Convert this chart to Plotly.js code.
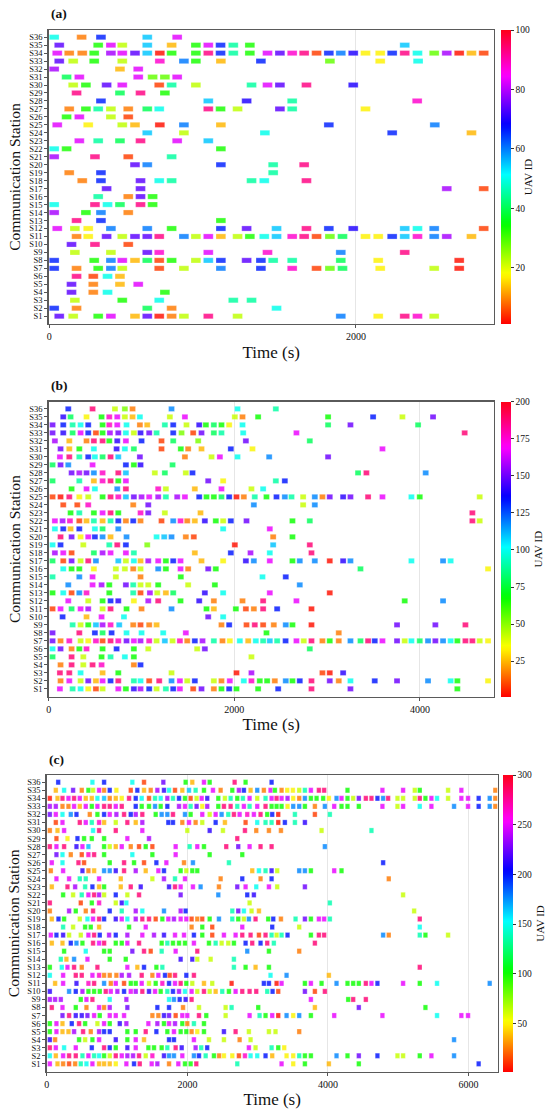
<!DOCTYPE html>
<html><head><meta charset="utf-8">
<script src="https://cdn.plot.ly/plotly-3.0.1.min.js"></script>
<style>html,body{margin:0;padding:0;background:#fff}#chart{width:550px;height:1113px}</style>
</head><body><div id="chart"></div>
<script>
// ---------------- DATA ----------------
const stations = ['S1','S2','S3','S4','S5','S6','S7','S8','S9','S10','S11','S12','S13','S14','S15','S16','S17','S18',
  'S19','S20','S21','S22','S23','S24','S25','S26','S27','S28','S29','S30','S31','S32','S33','S34','S35','S36'];
const windowSec = 64; // communication window length (s)

// Each row = one station (S1..S36): [start time (s), UAV ID]
const panelA = [
 [[33,74],[124,22],[287,33],[370,83],[527,13],[607,74],[685,2],[766,9],[846,22],[1005,93],[1196,22],[1869,60],[2113,17],[2286,93],[2369,88],[2478,22]],
 [[0,66],[146,9],[607,40],[766,9],[1450,50]],
 [[135,22],[444,33],[685,50],[1168,45],[1287,45]],
 [[113,74],[255,9],[348,50],[722,33]],
 [[113,74],[255,9],[429,13],[548,83]],
 [[146,93],[255,5],[348,50],[429,13]],
 [[0,66],[146,9],[287,33],[370,60],[444,22],[685,5],[846,22],[1087,60],[1348,66],[1552,88],[1711,5],[1798,28],[1880,40],[2126,17],[2478,22],[2641,2]],
 [[0,66],[261,33],[370,60],[444,83],[527,13],[607,40],[685,5],[766,33],[924,22],[1005,55],[1087,66],[1255,74],[1348,66],[1428,45],[1552,45],[1869,40],[2113,17],[2641,2]],
 [[135,22],[370,22],[607,74],[685,88],[1005,83],[1391,88],[1869,60],[2286,93]],
 [[113,74],[266,93],[483,5]],
 [[146,9],[222,17],[342,74],[444,22],[527,74],[607,74],[685,93],[846,60],[924,22],[1005,83],[1087,13],[1196,22],[1276,33],[1370,50],[1450,55],[1552,88],[1630,93],[1711,5],[1798,28],[1880,40],[2030,17],[2113,17],[2204,66],[2286,55],[2369,88],[2478,60],[2560,79],[2721,13]],
 [[20,83],[135,22],[222,17],[370,60],[607,60],[766,33],[1087,66],[1255,74],[1450,55],[1645,93],[1791,66],[1950,70],[2286,55],[2369,50],[2478,60],[2801,5]],
 [[146,93],[305,66],[1087,33]],
 [[0,79],[207,33],[305,60],[483,9]],
 [[0,50],[266,93],[348,50],[429,40],[563,93],[642,33]],
 [[287,45],[483,9],[563,74],[642,33]],
 [[342,74],[563,74],[2560,79],[2801,5]],
 [[183,9],[305,66],[563,74],[685,50],[766,45],[1287,45],[1370,50],[1645,93]],
 [[98,9],[305,66],[1428,45]],
 [[527,74],[607,60],[1087,66],[1428,45],[1630,93]],
 [[0,79],[266,93],[483,5],[766,45]],
 [[0,50],[81,33],[1087,33]],
 [[164,83],[287,45],[429,40],[563,93],[802,83],[1005,55]],
 [[607,55],[846,22],[1374,50],[2204,66],[2721,13]],
 [[20,83],[222,17],[444,22],[527,13],[689,2],[846,60],[1087,13],[1791,66],[2482,60]],
 [[81,33],[164,83],[370,22],[483,5]],
 [[98,9],[207,33],[287,45],[370,22],[483,9],[607,40],[685,50],[1005,93],[1085,33],[1196,22],[1472,74],[1552,45],[2030,17]],
 [[305,66],[1005,55],[1255,70],[1552,45],[2367,88]],
 [[146,93],[429,40],[563,93],[722,33]],
 [[124,22],[207,33],[342,74],[444,83],[685,5],[766,45],[924,22],[1287,45],[1391,83],[1472,74],[1645,93],[1950,70]],
 [[81,40],[164,83],[548,83],[642,28],[722,28],[802,83]],
 [[0,79],[429,13],[548,83]],
 [[33,74],[124,22],[261,33],[444,22],[689,88],[846,60],[924,33],[1087,13],[1348,66],[1798,28],[2126,17],[2373,50]],
 [[20,83],[98,9],[183,9],[261,33],[370,79],[444,83],[527,74],[607,55],[689,2],[766,33],[924,33],[1005,93],[1085,66],[1168,45],[1276,33],[1391,83],[1472,74],[1552,88],[1630,93],[1711,5],[1791,66],[1869,60],[1950,70],[2030,17],[2126,17],[2204,66],[2286,93],[2369,50],[2478,28],[2560,79],[2641,2],[2721,13],[2801,5]],
 [[33,74],[287,33],[370,83],[444,22],[607,55],[766,13],[924,33],[1005,83],[1085,66],[1168,45],[1276,33],[2286,55]],
 [[0,50],[179,9],[305,66],[607,55],[802,83]]
];

const panelB = [
 [[88,167],[225,90],[311,100],[393,34],[476,9],[548,42],[717,167],[799,67],[885,141],[957,158],[1050,133],[1130,42],[1230,90],[1309,133],[1381,167],[1524,9],[1614,150],[1747,17],[1829,67],[1912,133],[1991,67],[2224,67],[2440,133],[2799,188],[3219,150],[4371,67]],
 [[95,17],[189,167],[311,42],[393,150],[476,25],[548,167],[634,133],[717,188],[885,90],[957,100],[1050,9],[1158,188],[1291,118],[1381,167],[1460,42],[1542,133],[1747,42],[1829,17],[1919,167],[2070,100],[2152,177],[2242,67],[2321,67],[2404,17],[2522,118],[2594,67],[2673,133],[2799,188],[2996,150],[3093,17],[3219,100],[3481,133],[3721,150],[4055,118],[4299,100],[4371,67],[4702,34]],
 [[88,188],[189,188],[311,100],[548,25],[717,67],[1291,42],[1991,3],[2152,158],[2917,9],[2996,3],[3140,141]],
 [[95,17],[214,188],[340,42],[440,188],[537,177],[885,17],[957,133]],
 [[9,80],[214,188],[340,42],[537,67],[634,90],[788,100],[885,67],[2152,42]],
 [[9,100],[95,150],[214,17],[297,67],[375,177],[548,67],[699,133],[885,67],[1040,42],[1567,42],[1650,150],[2781,80]],
 [[9,150],[95,17],[189,177],[311,42],[393,34],[476,177],[548,9],[634,188],[717,177],[806,150],[885,167],[957,158],[1050,177],[1130,42],[1219,110],[1302,42],[1381,177],[1460,17],[1542,133],[1625,158],[1747,90],[1840,17],[1919,34],[2027,100],[2117,25],[2199,100],[2278,90],[2350,110],[2429,90],[2520,133],[2637,167],[2716,42],[2799,188],[2917,17],[2996,67],[3093,17],[3219,118],[3327,80],[3409,188],[3481,133],[3564,167],[3721,150],[3804,42],[3876,100],[3966,80],[4055,118],[4134,150],[4217,118],[4299,100],[4371,67],[4458,188],[4533,188],[4612,42],[4702,34]],
 [[9,150],[297,188],[465,133],[548,80],[645,133],[806,100],[968,100],[1201,100],[1445,167],[2314,67],[3093,17]],
 [[225,90],[311,42],[393,67],[476,110],[548,158],[634,177],[727,110],[878,17],[957,9],[1050,17],[1130,25],[1829,17],[1912,133],[2099,9],[2188,188],[2278,9],[2393,17],[2522,118],[2594,67],[2799,3],[3721,150],[4134,150],[4458,188]],
 [[117,133],[375,25],[537,167],[778,100],[1686,150],[1847,100]],
 [[9,9],[95,167],[214,80],[311,167],[393,158],[548,42],[634,188],[806,67],[968,17],[1291,118],[1668,67],[1747,25],[1984,67],[2092,9],[2178,17],[2278,188],[2429,133],[2799,3]],
 [[178,167],[393,42],[548,67],[634,133],[717,141],[885,34],[1040,158],[1147,188],[1388,67],[1589,141],[1747,17],[2056,17],[2278,188],[2637,167],[3804,67],[4217,118]],
 [[9,67],[124,100],[214,9],[297,118],[375,177],[620,67],[878,90],[957,9],[1058,158],[1137,42],[1230,25],[1309,80],[1650,141],[1847,100],[2350,167],[2996,3]],
 [[178,118],[440,167],[537,158],[620,67],[799,150],[878,90],[957,42],[1040,42],[1147,67],[1470,42],[1758,67],[2673,118]],
 [[9,90],[297,118],[440,167],[691,42],[957,17],[1391,67],[2271,100],[2522,133]],
 [[124,100],[214,67],[297,67],[454,34],[691,42],[788,42],[878,17],[957,42],[1147,118],[1230,67],[1388,167],[1470,17],[1686,150],[1768,67],[3327,80],[4702,34]],
 [[9,80],[124,9],[214,150],[311,42],[393,188],[476,118],[717,110],[799,42],[885,100],[957,25],[1040,158],[1147,167],[1230,67],[1309,133],[1388,167],[1614,25],[1847,34],[2092,141],[2178,118],[2350,167],[2594,67],[2673,118],[2835,118],[2996,3],[3140,141],[3219,118],[3876,100],[4217,118],[4299,100]],
 [[34,158],[124,167],[214,9],[454,80],[548,158],[634,167],[799,167],[885,90],[1542,25],[1930,133],[2142,158],[2350,100],[2799,188]],
 [[9,100],[95,133],[340,42],[620,90],[706,188],[799,133],[1029,52],[1973,3],[2386,110],[2781,188]],
 [[95,188],[214,150],[311,34],[393,167],[465,133],[548,118],[634,25],[806,118],[1130,100],[1212,110],[1291,118],[1445,17],[1531,9],[2386,17],[2594,67]],
 [[34,100],[124,133],[203,25],[297,133],[465,100],[548,80],[717,118],[1847,100],[2350,167]],
 [[34,167],[117,158],[196,177],[297,9],[375,25],[454,90],[548,25],[634,90],[717,133],[799,17],[878,133],[957,17],[1183,9],[1309,118],[1388,177],[1460,17],[1542,25],[1650,141],[1768,67],[1847,42],[1930,133],[2099,150],[2594,67],[2781,80],[4533,188],[4612,42]],
 [[203,67],[297,90],[454,67],[548,167],[634,188],[717,67],[957,177],[1040,150],[1219,42],[1603,25],[4533,188]],
 [[124,9],[275,9],[393,177],[878,17],[1040,150],[2178,118],[2709,42],[2835,118]],
 [[9,9],[95,3],[189,188],[297,34],[393,42],[548,67],[634,188],[717,177],[799,110],[885,150],[968,158],[1050,167],[1147,158],[1230,90],[1352,158],[1435,167],[1589,133],[1668,67],[1747,67],[1829,80],[1912,133],[1991,3],[2070,17],[2188,90],[2314,67],[2422,133],[2512,118],[2584,90],[2709,42],[2835,118],[2917,17],[2996,150],[3140,141],[3219,150],[3409,188],[3564,167],[3876,100],[3966,67],[4612,42]],
 [[214,67],[375,167],[465,100],[706,118],[799,188],[1147,177],[1230,42],[1542,25],[1829,167],[2152,42],[2278,100]],
 [[9,80],[297,90],[454,25],[548,177],[634,188],[717,67],[799,167],[1686,150],[1847,34],[2415,90],[2512,133]],
 [[214,150],[297,158],[375,150],[454,118],[548,177],[717,188],[799,110],[1111,42],[1219,80],[1445,42],[1517,133],[3301,80],[3391,188],[4030,118]],
 [[9,80],[95,150],[178,118],[440,167],[799,133],[885,67],[957,141],[1302,80]],
 [[88,167],[189,188],[297,90],[393,133],[465,100],[548,80],[634,188],[717,110],[950,150],[1435,17],[1722,42],[1812,167],[2002,100],[2343,118],[2978,150]],
 [[95,150],[189,25],[297,67],[454,100],[699,141],[788,100],[885,80],[1183,9],[1391,67],[1470,17],[1614,25],[1930,133],[2163,34],[3564,167]],
 [[34,158],[189,25],[375,17],[454,188],[548,188],[620,67],[706,141],[799,167],[968,133],[1183,9],[1309,80],[1578,52],[2092,150],[2781,80]],
 [[9,150],[124,141],[225,80],[311,167],[393,133],[476,9],[548,67],[627,158],[717,150],[799,100],[885,42],[957,141],[1050,150],[1130,90],[1309,133],[1399,52],[1524,9],[1614,150],[1747,80],[1829,90],[2063,100],[2637,167],[4450,188]],
 [[9,150],[124,133],[225,90],[311,100],[393,133],[548,67],[620,177],[706,167],[806,100],[950,17],[1029,25],[1219,90],[1309,133],[1452,42],[1589,141],[1661,67],[1747,80],[1829,67],[1912,34],[2056,100],[2978,80],[3219,150],[3948,80]],
 [[124,141],[203,80],[375,34],[537,67],[620,177],[706,167],[788,42],[871,25],[950,100],[1273,42],[1435,167],[1973,42],[2056,17],[2224,67],[2978,67],[3463,133],[3779,42],[4109,150]],
 [[178,133],[440,188],[681,42],[788,52],[871,17],[1291,118],[2002,100],[2415,90]]
];

const panelC = [
 [[11,250],[120,37],[200,25],[285,13],[371,25],[451,137],[532,150],[617,250],[712,37],[783,37],[863,37],[949,50],[1100,250],[1209,200],[1290,282],[1460,250],[1541,237],[1707,25],[1839,250],[1934,100],[2014,100],[2095,282],[2678,137],[3308,250],[3474,50],[3640,100],[3981,37],[4407,100],[6112,200]],
 [[11,150],[96,37],[200,250],[285,282],[380,282],[475,137],[560,250],[641,137],[712,150],[783,100],[863,63],[949,282],[1034,250],[1114,237],[1195,237],[1280,282],[1375,63],[1470,265],[1635,212],[1707,177],[1777,177],[1896,250],[2061,177],[2133,200],[2228,137],[2346,100],[2420,25],[2488,50],[2607,50],[2701,13],[2787,265],[2867,150],[2962,150],[3080,200],[3175,37],[3379,50],[3474,50],[3559,137],[3640,100],[3725,100],[4090,177],[4246,100],[4407,225],[4672,200],[4957,63],[5037,63],[5274,100],[5440,250],[5762,177]],
 [[11,282],[96,250],[214,150],[380,250],[608,200],[783,282],[863,200],[949,100],[1114,212],[1233,250],[1413,100],[1493,100],[1602,100],[1683,137],[1801,282],[1887,212],[2085,237],[2165,137],[2250,200],[2843,250],[2938,63],[3166,137],[3261,100],[3346,50]],
 [[11,212],[86,25],[427,100],[513,63],[617,100],[712,250],[949,212],[1114,100],[1233,250],[1351,37],[1707,200],[1777,200],[2061,250],[2275,63],[2488,63],[2711,25],[2867,63],[5762,177]],
 [[11,100],[105,250],[191,37],[276,37],[356,237],[484,282],[593,25],[712,237],[783,200],[863,200],[1114,100],[1233,100],[1375,282],[1527,200],[1683,100],[1777,250],[1872,100],[1953,100],[2028,25],[2109,50],[2204,100],[2488,212],[2654,282],[2843,63],[3128,63],[3222,63],[3559,25]],
 [[11,100],[105,250],[191,37],[323,200],[427,282],[513,100],[688,63],[783,250],[863,100],[1006,212],[1100,237],[1413,250],[1541,237],[1635,100],[1707,250],[1792,237],[1896,100],[1967,25],[2061,137],[2204,100]],
 [[191,225],[285,282],[380,212],[465,212],[546,225],[641,250],[721,100],[863,250],[949,250],[1067,250],[1470,25],[1555,25],[1635,212],[1707,225],[1801,13],[1896,250],[1967,250],[2133,282],[2237,100],[2512,63],[2853,250],[2995,137],[3080,100],[3175,250],[3261,4],[3379,177],[3474,50],[3559,177],[3725,100],[4057,250],[4743,250],[5520,150],[5866,250],[5961,250]],
 [[39,282],[191,250],[380,100],[532,25],[712,250],[783,25],[863,237],[1114,225],[1541,200],[1707,200],[1906,25],[2133,63],[2512,63],[2597,137],[2976,100],[3782,37],[4407,225],[5355,100]],
 [[11,237],[86,237],[167,237],[451,100],[532,250],[617,282],[863,150],[1100,237],[1707,150],[1777,177],[1858,200],[1943,212],[2028,282],[3725,250],[4256,100],[4327,282],[4507,282]],
 [[11,212],[285,177],[380,200],[475,237],[560,100],[641,100],[721,100],[806,282],[878,250],[972,237],[1067,200],[1162,250],[1233,237],[1327,282],[1422,212],[1508,250],[1588,100],[1683,137],[1763,200],[1849,237],[1934,150],[2028,250],[2109,63],[2204,282],[2285,63],[2370,37],[2464,137],[2559,100],[2654,250],[2749,282],[2853,282],[2948,282],[3104,137],[3180,200],[3261,13],[3640,225],[3782,13],[3924,282]],
 [[86,37],[200,250],[390,212],[560,265],[641,282],[783,177],[878,25],[949,250],[1067,13],[1162,100],[1233,100],[1318,250],[1422,63],[1517,100],[1612,265],[1707,200],[1792,250],[1872,282],[1953,100],[2038,63],[2204,37],[2322,63],[2597,4],[3056,200],[3128,200],[3237,4],[3308,250],[3640,100],[3725,250],[3877,100],[4090,177],[4246,100],[4327,100],[4407,100],[4507,282],[4587,250],[4672,200],[5037,250],[5274,100],[5520,150],[6269,177]],
 [[11,150],[200,250],[380,282],[465,282],[617,250],[712,265],[783,25],[863,25],[958,25],[1034,237],[1138,237],[1318,282],[1470,25],[1555,250],[1650,200],[1716,13],[1792,282],[1953,200],[2061,282],[3151,150],[3379,177],[3981,37]],
 [[11,100],[181,150],[262,250],[356,282],[465,25],[688,282],[1114,250],[1256,37],[1351,200],[1527,100],[1612,137],[2630,137],[2796,100],[2938,37],[3128,100],[5274,282]],
 [[167,137],[247,37],[356,177],[546,250],[863,100],[1091,100],[1872,212],[2038,212],[2109,63],[2299,63],[2630,137]],
 [[214,100],[522,150],[783,100],[863,100],[1185,225],[1351,282],[1446,13],[1602,137],[1801,250],[2109,282],[2820,177],[3128,100],[3559,25]],
 [[39,37],[191,37],[309,200],[390,177],[475,100],[626,282],[712,250],[783,282],[949,100],[1034,100],[1114,250],[1280,282],[1602,100],[1683,137],[1763,100],[1849,100],[1934,100],[2061,250],[2275,100],[2370,137],[2455,63],[2550,63],[2630,100],[2796,200],[2891,282],[3009,200],[3104,282],[3198,137],[3782,282]],
 [[25,250],[105,200],[200,212],[285,63],[451,63],[560,250],[641,282],[721,200],[854,237],[949,200],[1114,237],[1327,250],[1493,237],[1635,212],[1792,250],[1920,250],[2061,200],[2180,100],[2322,13],[2488,250],[2654,250],[2749,282],[2867,282],[2986,13],[3080,282],[3166,137],[3237,63],[3308,137],[3393,200],[3725,100],[3839,282],[3914,282],[4753,177],[4833,25],[5274,137],[5355,100],[5677,63]],
 [[200,137],[342,63],[513,100],[593,100],[712,37],[1138,100],[1375,250],[2028,25],[2180,100],[2322,13],[2749,250],[3175,200],[3559,63],[5274,150]],
 [[39,37],[134,200],[214,100],[437,63],[546,150],[626,250],[712,282],[783,200],[949,212],[1034,250],[1114,150],[1233,237],[1327,282],[1422,282],[1517,13],[1612,100],[1697,250],[1777,237],[1872,250],[1953,250],[2028,13],[2109,25],[2180,13],[2285,100],[2417,177],[2607,137],[2692,100],[2772,63],[2843,177],[2938,282],[3118,100],[3190,200],[3299,25],[3507,137],[3640,225],[3725,100],[3839,250],[3914,250],[3995,137],[5274,282]],
 [[11,25],[285,237],[380,100],[522,25],[626,282],[863,200],[1034,137],[1233,237],[1327,150],[1635,177],[1872,237],[1943,200],[2607,137],[2692,225],[2772,150],[2881,63],[2986,37],[5194,63]],
 [[11,282],[451,13],[608,100],[712,265],[949,63],[1034,212],[1100,150],[2853,63],[3995,137]],
 [[200,100],[342,63],[465,137],[560,250],[641,282],[712,237],[783,63],[949,200],[1114,63],[1280,282],[1872,225],[2408,177],[2820,200],[2914,212],[5037,63]],
 [[39,37],[262,282],[371,237],[513,137],[617,200],[712,37],[783,100],[1020,37],[1162,282],[1304,212],[1707,212],[1792,282],[1872,250],[2047,250],[2156,177],[2417,25],[2678,225],[2796,250],[2948,150],[3128,250],[3246,63],[3640,225]],
 [[105,250],[285,250],[437,137],[522,137],[712,250],[1020,37],[1470,63],[1635,237],[1792,137],[1934,250],[2441,25],[2749,200],[3009,25],[3166,200],[4833,25]],
 [[25,25],[200,250],[475,212],[560,25],[641,37],[783,177],[863,177],[949,212],[1067,282],[1233,237],[1375,37],[1555,250],[1635,200],[1872,100],[1953,63],[2038,100],[2109,100],[2891,37],[2986,150],[3080,137],[3166,212],[3246,63],[3559,177],[3640,177],[3725,100],[4057,250],[4161,100]],
 [[39,250],[191,150],[418,282],[498,13],[863,100],[1067,282],[1209,100],[1351,13],[1527,200],[1669,250],[1920,25],[2047,177],[2559,137],[4753,200]],
 [[105,225],[191,150],[309,25],[465,13],[560,265],[641,282],[783,100],[1185,150],[1470,100],[1801,250],[2285,100],[2749,100]],
 [[11,282],[105,250],[214,282],[390,212],[475,250],[560,165],[783,100],[863,63],[949,37],[1034,250],[1162,25],[1280,13],[1375,100],[1470,13],[1801,250],[2000,137],[2109,250],[2204,100],[2521,282],[2692,225],[2853,250],[3009,282],[3166,282],[3924,177]],
 [[105,13],[262,50],[404,200],[498,100],[608,100],[783,100],[1114,250],[1422,237],[2678,282]],
 [[11,25],[120,37],[214,250],[626,150],[712,282],[949,282],[1327,250],[1967,63],[2285,212],[2474,63],[2787,282],[2948,25],[3128,25],[3299,25],[3877,63],[4587,137]],
 [[96,13],[191,250],[437,282],[522,250],[608,137],[712,265],[783,37],[949,63],[1114,282],[1233,37],[1327,237],[1697,200],[1763,200],[1896,25],[1991,250],[2085,25],[2180,63],[2370,200],[2502,37],[2796,13],[2962,150],[3080,137],[3166,137],[3261,4],[3355,200],[3498,137],[3640,212]],
 [[11,225],[96,250],[191,150],[309,177],[390,200],[579,25],[688,100],[783,200],[863,250],[958,237],[1067,282],[1162,200],[1233,237],[1327,282],[1517,100],[1602,177],[1683,177],[1763,282],[1934,177],[2014,100],[2180,250],[2285,63],[2370,250],[2455,177],[2550,137],[2630,282],[2711,250],[2820,265],[2914,250],[3009,282],[3104,100],[3175,200],[3261,4],[3498,137],[3782,13],[3995,137]],
 [[11,237],[96,237],[191,25],[276,25],[356,250],[437,37],[522,250],[608,100],[688,250],[783,282],[863,282],[949,250],[1034,282],[1233,200],[1318,100],[1422,100],[1508,177],[1588,100],[1683,200],[1849,237],[1934,250],[2014,137],[2099,225],[2180,50],[2251,237],[2408,100],[2488,282],[2583,282],[2678,137],[2772,250],[2853,137],[2962,250],[3080,282],[3166,100],[3237,100],[3308,100],[3393,50],[3474,177],[3559,177],[3640,100],[3782,25],[3924,177],[4057,250],[4161,100],[4246,100],[4407,100],[4743,250],[4957,63],[5037,250],[5274,150],[5440,250],[5762,177],[5961,250],[6112,200],[6269,177],[6349,25]],
 [[11,4],[120,37],[191,282],[276,250],[356,282],[437,250],[522,37],[608,37],[688,150],[783,165],[863,25],[949,37],[1034,50],[1138,282],[1233,200],[1318,150],[1422,13],[1508,137],[1588,150],[1683,237],[1763,137],[1849,200],[1934,100],[2014,13],[2099,63],[2171,250],[2251,212],[2408,100],[2502,63],[2583,137],[2678,100],[2758,137],[2853,250],[2962,63],[3080,137],[3166,250],[3237,282],[3308,250],[3393,237],[3474,50],[3559,25],[3640,177],[3725,100],[3806,100],[3900,100],[3981,50],[4090,177],[4161,250],[4246,100],[4327,63],[4407,225],[4507,282],[4587,282],[4672,200],[4753,177],[4824,282],[4957,63],[5037,63],[5203,63],[5274,282],[5355,100],[5440,250],[5520,150],[5677,63],[5866,250],[5961,250],[6112,200],[6269,177],[6349,25]],
 [[96,37],[214,150],[342,225],[465,25],[560,100],[626,63],[712,250],[783,25],[863,200],[958,50],[1162,13],[1256,200],[1351,37],[1446,25],[1541,237],[1635,212],[1707,150],[1792,13],[1896,37],[1991,165],[2085,137],[2204,100],[2332,250],[2441,25],[2607,100],[2701,237],[2772,200],[2867,37],[2962,177],[3056,25],[3151,250],[3213,100],[3308,25],[3389,50],[3469,50],[3559,63],[3640,137],[3725,250],[3839,282],[3914,282],[4246,100],[4743,250],[5037,250],[5203,63],[5274,100],[5677,63],[5866,250],[6349,25]],
 [[130,200],[617,150],[783,200],[1185,150],[1351,13],[1626,225],[1943,100],[2038,37],[2204,250],[2285,100],[2640,282],[2796,100],[3166,200]]
];

const uavRangeA = [1, 100], uavRangeB = [1, 200], uavRangeC = [1, 300];
const cbTicksA = [20, 40, 60, 80, 100];
const cbTicksB = [25, 50, 75, 100, 125, 150, 175, 200];
const cbTicksC = [50, 100, 150, 200, 250, 300];
const xTicksA = [0, 2000];
const xTicksB = [0, 2000, 4000];
const xTicksC = [0, 2000, 4000, 6000];
const panelLabels = ['(a)', '(b)', '(c)'];

// ---------------- STYLE / LAYOUT ----------------
const W = 550, H = 1113;
const FONT = 'Liberation Serif, Times New Roman, serif';
const px = p => p / W;
const py = p => 1 - p / H;

// matplotlib "hsv" colormap
const hsv = [
  [0, 'rgb(255,0,0)'], [0.1587, 'rgb(255,239,0)'], [0.1746, 'rgb(247,255,0)'],
  [0.3333, 'rgb(8,255,0)'], [0.3492, 'rgb(0,255,16)'], [0.5079, 'rgb(0,255,255)'],
  [0.6667, 'rgb(0,16,255)'], [0.6825, 'rgb(8,0,255)'], [0.8413, 'rgb(247,0,255)'],
  [0.8571, 'rgb(255,0,239)'], [1, 'rgb(255,0,24)']
];

const geo = [
  {l: 48.5, r: 494, t: 30, b: 324, cbx: 500.7, xr: [-5, 2900]},
  {l: 48.5, r: 494, t: 401.7, b: 696.7, cbx: 501, xr: [-3, 4798]},
  {l: 46.6, r: 497.7, t: 775, b: 1071.7, cbx: 503.3, xr: [-3, 6415]}
];

function buildTrace(rows, range, ticks, k) {
  const y = [], base = [], x = [], c = [];
  rows.forEach((row, i) => row.forEach(([t, id]) => {
    y.push(i + 1); base.push(t); x.push(windowSec); c.push(id);
  }));
  const g = geo[k];
  const sfx = k === 0 ? '' : String(k + 1);
  return {
    type: 'bar', orientation: 'h', y, x, base, width: 0.65,
    xaxis: 'x' + sfx, yaxis: 'y' + sfx, hoverinfo: 'skip',
    marker: {
      color: c, colorscale: hsv, cmin: range[0], cmax: range[1], opacity: 0.82,
      line: {width: 0.6, color: 'rgba(255,255,255,0.45)'},
      showscale: true,
      colorbar: {
        x: px(g.cbx), xanchor: 'left', xref: 'paper', y: py(g.t), yanchor: 'top', yref: 'paper',
        len: (g.b - g.t) / H, lenmode: 'fraction', thickness: 9.5, thicknessmode: 'pixels',
        xpad: 0, ypad: 0, outlinewidth: 0,
        tickmode: 'array', tickvals: ticks, ticks: 'outside', ticklen: 3, tickcolor: '#333',
        tickfont: {family: FONT, size: 9.5, color: '#111'},
        title: {text: 'UAV ID', side: 'right', font: {family: FONT, size: 11, color: '#111'}}
      }
    }
  };
}

const data = [
  buildTrace(panelA, uavRangeA, cbTicksA, 0),
  buildTrace(panelB, uavRangeB, cbTicksB, 1),
  buildTrace(panelC, uavRangeC, cbTicksC, 2)
];

const xTickSets = [xTicksA, xTicksB, xTicksC];
const layout = {
  width: W, height: H, margin: {l: 0, r: 0, t: 0, b: 0},
  paper_bgcolor: '#fff', plot_bgcolor: '#fff', showlegend: false,
  font: {family: FONT, color: '#111'}, barmode: 'overlay', bargap: 0,
  annotations: []
};
geo.forEach((g, k) => {
  const sfx = k === 0 ? '' : String(k + 1);
  layout['xaxis' + sfx] = {
    domain: [px(g.l), px(g.r)], range: g.xr, anchor: 'y' + sfx,
    tickmode: 'array', tickvals: xTickSets[k], ticks: 'outside', ticklen: 3, tickcolor: '#555',
    showgrid: true, gridcolor: '#e6e6e6', gridwidth: 1, zeroline: false,
    showline: true, mirror: true, linecolor: '#5a5a5a', linewidth: 1.3,
    tickfont: {family: FONT, size: 10, color: '#111'},
    title: {text: 'Time (s)', font: {family: FONT, size: 17, color: '#111'}, standoff: 4},
    automargin: false, fixedrange: true
  };
  layout['yaxis' + sfx] = {
    domain: [py(g.b), py(g.t)], range: [0.02, 36.9], anchor: 'x' + sfx,
    tickmode: 'array', tickvals: stations.map((s, i) => i + 1), ticktext: stations,
    ticks: 'outside', ticklen: 3, tickcolor: '#555',
    showgrid: false, zeroline: false, showline: true, mirror: true, linecolor: '#5a5a5a', linewidth: 1.3,
    tickfont: {family: FONT, size: 8.5, color: '#111'},
    title: {text: 'Communication Station', font: {family: FONT, size: 15.5, color: '#111'}, standoff: 4},
    automargin: false, fixedrange: true
  };
  layout.annotations.push({
    text: '<b>' + panelLabels[k] + '</b>', xref: 'paper', yref: 'paper',
    x: px(g.l), y: py(g.t - 16), xanchor: 'left', yanchor: 'middle', showarrow: false,
    font: {family: FONT, size: 13.5, color: '#111'}
  });
});

Plotly.newPlot('chart', data, layout, {displayModeBar: false, staticPlot: true});
</script>
</body></html>
